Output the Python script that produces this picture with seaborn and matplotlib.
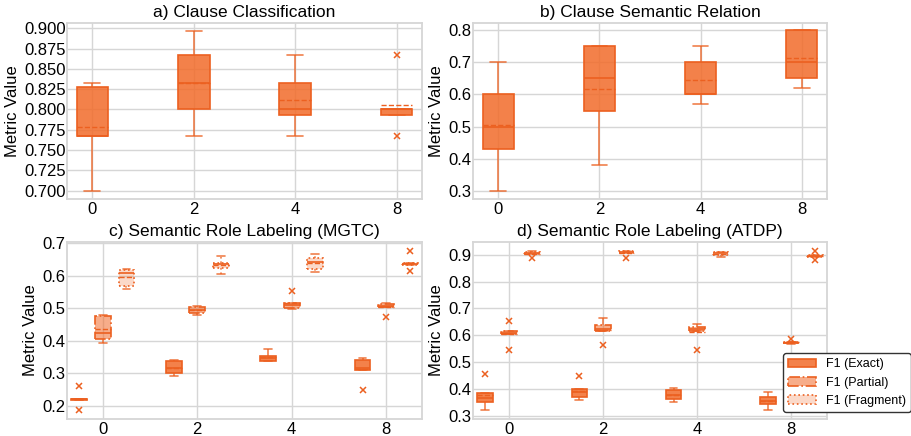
import numpy as np
import pandas as pd
import seaborn as sns
import matplotlib.pyplot as plt
from matplotlib.colors import to_rgb
from matplotlib.patches import Patch

sns.set_theme(style="whitegrid")
plt.rcParams["font.family"] = ["Liberation Sans", "DejaVu Sans"]
plt.rcParams.update({"text.color": "black", "axes.labelcolor": "black",
                     "xtick.color": "black", "ytick.color": "black"})

# ---- data: five runs per few-shot setting ----
shots = ["0", "2", "4", "8"]
metrics = ["F1 (Exact)", "F1 (Partial)", "F1 (Fragment)"]

clause_cls = {
    "0": [0.700, 0.767, 0.767, 0.828, 0.833],
    "2": [0.767, 0.800, 0.833, 0.867, 0.897],
    "4": [0.767, 0.793, 0.800, 0.833, 0.867],
    "8": [0.767, 0.793, 0.800, 0.800, 0.867],
}
clause_rel = {
    "0": [0.30, 0.43, 0.50, 0.60, 0.70],
    "2": [0.38, 0.55, 0.65, 0.75, 0.75],
    "4": [0.57, 0.60, 0.60, 0.70, 0.75],
    "8": [0.62, 0.65, 0.70, 0.80, 0.80],
}
mgtc_exact = {
    "0": [0.187, 0.218, 0.220, 0.222, 0.260],
    "2": [0.292, 0.300, 0.317, 0.337, 0.340],
    "4": [0.338, 0.338, 0.347, 0.355, 0.375],
    "8": [0.250, 0.312, 0.318, 0.340, 0.348],
}
mgtc_partial = {
    "0": [0.395, 0.405, 0.425, 0.477, 0.480],
    "2": [0.480, 0.485, 0.495, 0.505, 0.507],
    "4": [0.497, 0.500, 0.510, 0.518, 0.552],
    "8": [0.473, 0.505, 0.508, 0.513, 0.515],
}
mgtc_fragment = {
    "0": [0.560, 0.570, 0.610, 0.618, 0.622],
    "2": [0.607, 0.625, 0.635, 0.640, 0.662],
    "4": [0.612, 0.622, 0.642, 0.655, 0.668],
    "8": [0.614, 0.632, 0.635, 0.638, 0.677],
}
atdp_exact = {
    "0": [0.323, 0.352, 0.367, 0.387, 0.455],
    "2": [0.358, 0.370, 0.390, 0.400, 0.450],
    "4": [0.352, 0.365, 0.380, 0.398, 0.405],
    "8": [0.323, 0.343, 0.355, 0.370, 0.390],
}
atdp_partial = {
    "0": [0.545, 0.605, 0.610, 0.617, 0.655],
    "2": [0.565, 0.615, 0.625, 0.637, 0.663],
    "4": [0.547, 0.618, 0.625, 0.632, 0.643],
    "8": [0.568, 0.572, 0.573, 0.575, 0.588],
}
atdp_fragment = {
    "0": [0.888, 0.903, 0.906, 0.910, 0.912],
    "2": [0.888, 0.905, 0.910, 0.912, 0.912],
    "4": [0.890, 0.900, 0.905, 0.910, 0.910],
    "8": [0.880, 0.893, 0.895, 0.897, 0.912],
}

# ---- styling ----
FACE = "#F26B2A"
EDGE = "#EC6020"
face_alpha = [0.85, 0.55, 0.25]
edge_style = ["-", "-.", ":"]
LW = 1.2


def long_single(d):
    rows = [(s, v) for s in shots for v in d[s]]
    return pd.DataFrame(rows, columns=["shots", "value"])


def long_multi(ds):
    rows = [(s, m, v) for m, d in zip(metrics, ds) for s in shots for v in d[s]]
    return pd.DataFrame(rows, columns=["shots", "metric", "value"])


common = dict(
    saturation=1,
    linecolor=EDGE,
    linewidth=LW,
    showmeans=True,
    meanline=True,
    meanprops=dict(color=EDGE, linestyle="--", linewidth=1.0),
    medianprops=dict(color=EDGE, linewidth=LW),
    whiskerprops=dict(color=EDGE, linewidth=LW, alpha=0.8),
    capprops=dict(color=EDGE, linewidth=LW, alpha=0.8),
    flierprops=dict(marker="x", markersize=4.5, markeredgecolor=EDGE,
                    markerfacecolor=EDGE, markeredgewidth=1.1),
)

fig = plt.figure(figsize=(9.11, 4.36), dpi=100)
L1, R1, L2, R2 = 67 / 911, 422 / 911, 473 / 911, 827 / 911
T1, B1, T2, B2 = 23 / 436, 199 / 436, 242 / 436, 419 / 436
ax_a = fig.add_axes([L1, 1 - B1, R1 - L1, B1 - T1])
ax_b = fig.add_axes([L2, 1 - B1, R2 - L2, B1 - T1])
ax_c = fig.add_axes([L1, 1 - B2, R1 - L1, B2 - T2])
ax_d = fig.add_axes([L2, 1 - B2, R2 - L2, B2 - T2])


def single_panel(ax, d):
    sns.boxplot(data=long_single(d), x="shots", y="value", order=shots,
                color=FACE, width=0.31, ax=ax, **common)
    for p in ax.patches:
        p.set_facecolor((*to_rgb(FACE), face_alpha[0]))
        p.set_edgecolor(EDGE)
    ax.set_xlim(-0.25, 3.25)


def multi_panel(ax, ds):
    width = 0.75
    sns.boxplot(data=long_multi(ds), x="shots", y="value", hue="metric",
                order=shots, hue_order=metrics, palette=[FACE] * 3,
                width=width, gap=0.33, ax=ax, legend=False, **common)
    step = width / 3

    def level(xc):
        return int(np.clip(round((xc - round(xc)) / step) + 1, 0, 2))

    for p in ax.patches:
        v = p.get_path().vertices
        xc = (v[:, 0].min() + v[:, 0].max()) / 2
        k = level(xc)
        p.set_facecolor((*to_rgb(FACE), face_alpha[k]))
        p.set_edgecolor(EDGE)
        p.set_linestyle(edge_style[k])
    for ln in ax.lines:
        xd = np.asarray(ln.get_xdata(), float)
        if xd.size == 0:
            continue
        k = level(xd.mean())
        # vertical whisker segments follow the box edge style
        if xd.size == 2 and abs(xd[0] - xd[1]) < 1e-9 and ln.get_marker() in (None, "None", ""):
            ln.set_linestyle(edge_style[k])
    ax.set_xlim(-0.38, 3.38)


single_panel(ax_a, clause_cls)
single_panel(ax_b, clause_rel)
multi_panel(ax_c, [mgtc_exact, mgtc_partial, mgtc_fragment])
multi_panel(ax_d, [atdp_exact, atdp_partial, atdp_fragment])

ticks_a = np.arange(0.700, 0.9001, 0.025)
ax_a.set_ylim(0.6898, 0.9065)
ax_a.set_yticks(ticks_a, [f"{t:.3f}" for t in ticks_a])
ticks_b = np.arange(0.3, 0.801, 0.1)
ax_b.set_ylim(0.274, 0.823)
ax_b.set_yticks(ticks_b, [f"{t:.1f}" for t in ticks_b])
ticks_c = np.arange(0.2, 0.701, 0.1)
ax_c.set_ylim(0.160, 0.704)
ax_c.set_yticks(ticks_c, [f"{t:.1f}" for t in ticks_c])
ticks_d = np.arange(0.3, 0.901, 0.1)
ax_d.set_ylim(0.289, 0.947)
ax_d.set_yticks(ticks_d, [f"{t:.1f}" for t in ticks_d])

titles = ["a) Clause Classification", "b) Clause Semantic Relation",
          "c) Semantic Role Labeling (MGTC)", "d) Semantic Role Labeling (ATDP)"]
for ax, t in zip([ax_a, ax_b, ax_c, ax_d], titles):
    ax.set_title(t, fontsize=12.5, pad=4, color="black")
    ax.set_xlabel("")
    ax.set_ylabel("Metric Value", fontsize=12, labelpad=3)
    ax.tick_params(axis="both", length=0, colors="black")
    ax.tick_params(axis="y", labelsize=12, pad=1)
    ax.tick_params(axis="x", labelsize=12, pad=2.5)
    ax.grid(True, color="#d6d6d6", linewidth=1.0)
    ax.set_axisbelow(True)
    for s in ax.spines.values():
        s.set_color("#d6d6d6")
        s.set_linewidth(1.3)

handles = [
    Patch(facecolor=(*to_rgb(FACE), a), edgecolor=EDGE,
          linestyle=ls, linewidth=LW, label=m)
    for a, ls, m in zip(face_alpha, edge_style, metrics)
]
leg = ax_d.legend(handles=handles, loc="lower left", bbox_to_anchor=(0.876, 0.04),
                  borderaxespad=0, fontsize=9, frameon=True, framealpha=1,
                  edgecolor="#333333", fancybox=True, handlelength=2.2)
leg.get_frame().set_linewidth(1.0)
for txt in leg.get_texts():
    txt.set_color("black")

fig.savefig("out.png", dpi=100)
